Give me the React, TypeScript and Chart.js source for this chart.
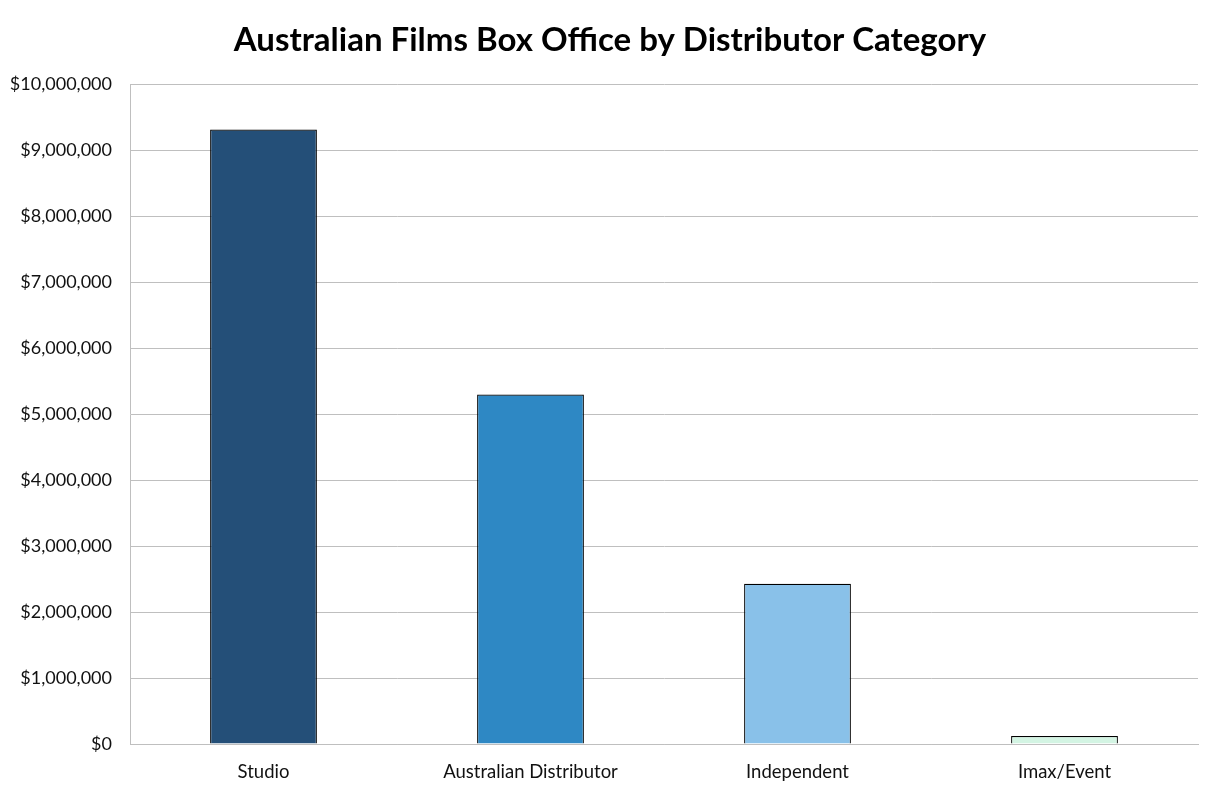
import React, { useEffect, useRef } from "react";
import { Chart, registerables } from "chart.js";

Chart.register(...registerables);

const categories = ["Studio", "Australian Distributor", "Independent", "Imax/Event"];
const boxOffice = [9320000, 5300000, 2430000, 120000];
const barColors = ["#244f78", "#2e88c4", "#89c1e9", "#d3f4e3"];

export default function App() {
  const ref = useRef<HTMLCanvasElement | null>(null);
  useEffect(() => {
    document.body.style.margin = "0";
    if (!ref.current) return;
    const chart = new Chart(ref.current, {
      type: "bar",
      data: {
        labels: categories,
        datasets: [
          {
            data: boxOffice,
            backgroundColor: barColors,
            borderColor: "#000000",
            borderWidth: 1.2,
            categoryPercentage: 0.8,
            barPercentage: 0.5,
          },
        ],
      },
      options: {
        animation: false,
        responsive: false,
        devicePixelRatio: 1,
        layout: { padding: { left: 0, right: 0, top: 0, bottom: 0 } },
        plugins: {
          legend: { display: false },
          tooltip: { enabled: false },
          title: {
            display: true,
            text: "Australian Films Box Office by Distributor Category",
            color: "#000000",
            font: { family: "Lato, 'Open Sans', sans-serif", size: 33, weight: "bold" },
            padding: { top: 21, bottom: 24 },
          },
        },
        scales: {
          x: {
            afterFit: (s: any) => {
              s.height = 46;
            },
            grid: { display: false, drawTicks: false },
            border: { display: true, color: "#bfbfbf", width: 1 },
            ticks: {
              color: "#111111",
              padding: 17,
              font: { family: "Lato, 'Open Sans', sans-serif", size: 18.5 },
            },
          },
          y: {
            min: 0,
            max: 10000000,
            afterFit: (s: any) => {
              s.width = 130;
            },
            grid: { color: "#bfbfbf", drawTicks: false, lineWidth: 1 },
            border: { display: true, color: "#bfbfbf", width: 1 },
            ticks: {
              stepSize: 1000000,
              color: "#111111",
              padding: 18,
              font: { family: "Lato, 'Open Sans', sans-serif", size: 18 },
              callback: (v: any) => "$" + Number(v).toLocaleString("en-US"),
            },
          },
          yRightSpacer: {
            position: "right",
            afterFit: (s: any) => {
              s.width = 22;
            },
            grid: { display: false, drawTicks: false },
            border: { display: false },
            ticks: { display: false },
          },
        },
      },
    });
    return () => chart.destroy();
  }, []);
  return (
    <div style={{ width: 1220, height: 790, background: "#ffffff" }}>
      <canvas ref={ref} width={1220} height={790} />
    </div>
  );
}
